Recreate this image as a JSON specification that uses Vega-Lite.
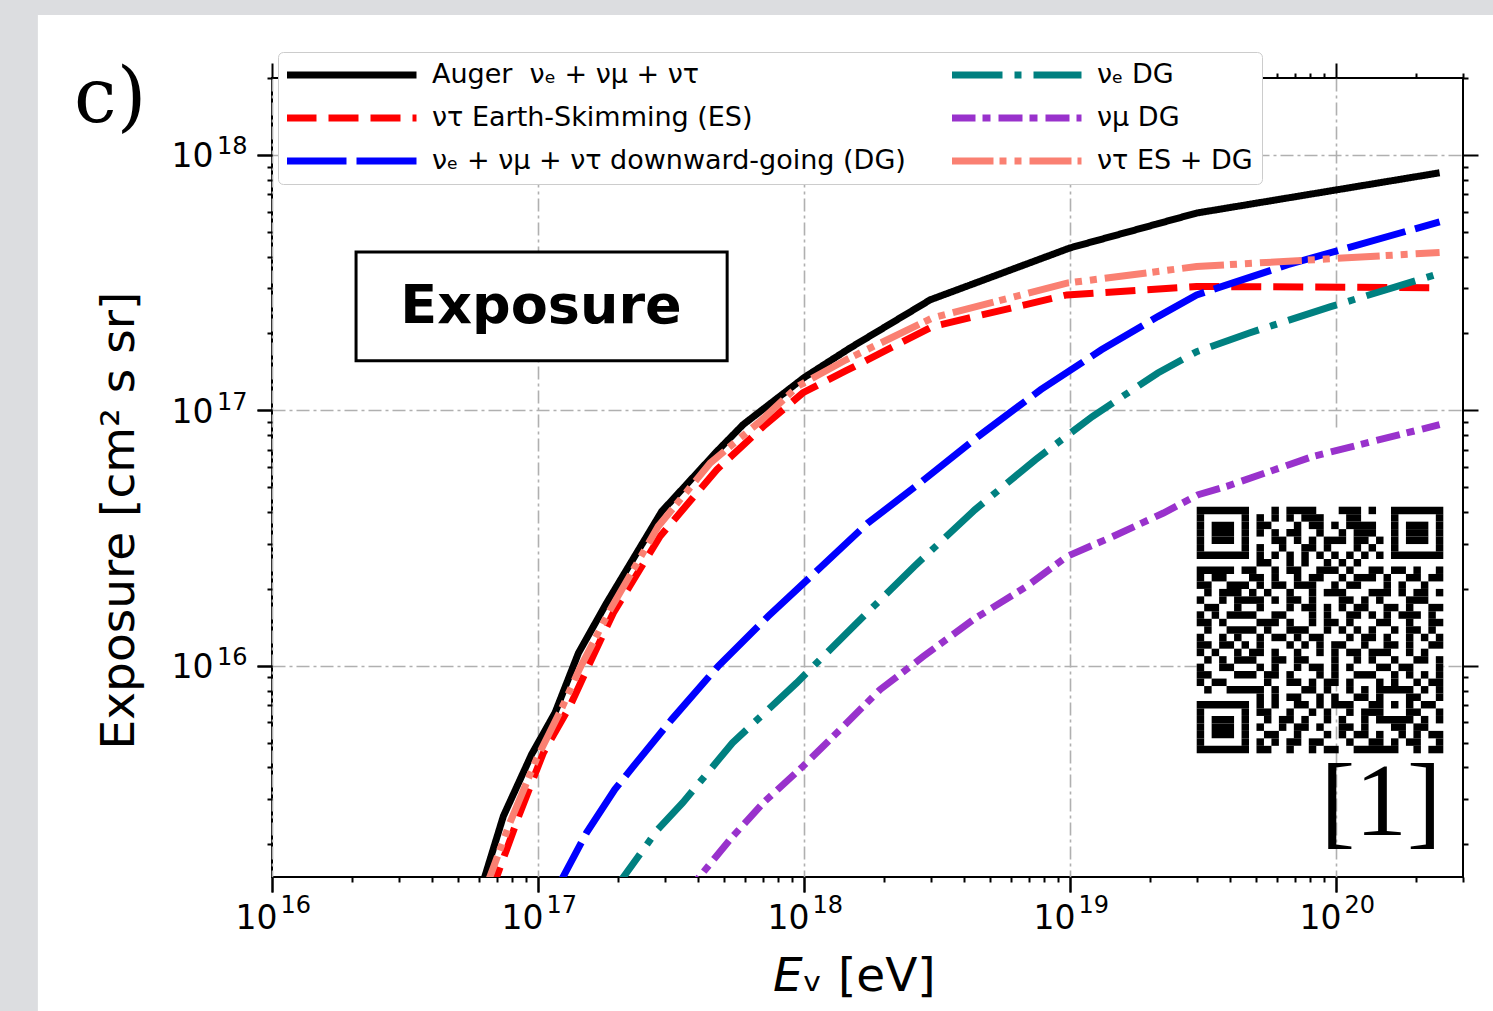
{
  "$schema": "https://vega.github.io/schema/vega-lite/v6.json",
  "width": 1191,
  "height": 799,
  "autosize": {"type": "none"},
  "padding": {"left": 272, "top": 78, "right": 30, "bottom": 134},
  "background": "white",
  "config": {
    "font": "DejaVu Sans",
    "view": {"stroke": "black", "strokeWidth": 2},
    "axis": {
      "domain": false,
      "tickColor": "black",
      "tickWidth": 2,
      "labelColor": "black",
      "titleColor": "black",
      "labelFont": "DejaVu Sans",
      "titleFont": "DejaVu Sans",
      "titleFontWeight": "normal",
      "gridColor": "#b0b0b0",
      "gridWidth": 1.6,
      "gridDash": [13, 4, 3, 4],
      "labelFlush": false,
      "labelOverlap": false,
      "labelBound": false
    }
  },
  "datasets": {
    "exposure": [
      {"s": "Auger\u00a0 νₑ + νμ + ντ", "E": 6.0e16, "X": 1.26e15},
      {"s": "Auger\u00a0 νₑ + νμ + ντ", "E": 7.41e16, "X": 2.58e15},
      {"s": "Auger\u00a0 νₑ + νμ + ντ", "E": 9.46e16, "X": 4.5e15},
      {"s": "Auger\u00a0 νₑ + νμ + ντ", "E": 1.159e17, "X": 6.55e15},
      {"s": "Auger\u00a0 νₑ + νμ + ντ", "E": 1.419e17, "X": 1.122e16},
      {"s": "Auger\u00a0 νₑ + νμ + ντ", "E": 1.811e17, "X": 1.762e16},
      {"s": "Auger\u00a0 νₑ + νμ + ντ", "E": 2.917e17, "X": 4.02e16},
      {"s": "Auger\u00a0 νₑ + νμ + ντ", "E": 4.7e17, "X": 6.9e16},
      {"s": "Auger\u00a0 νₑ + νμ + ντ", "E": 5.9e17, "X": 8.79e16},
      {"s": "Auger\u00a0 νₑ + νμ + ντ", "E": 1.0e18, "X": 1.343e17},
      {"s": "Auger\u00a0 νₑ + νμ + ντ", "E": 1.489e18, "X": 1.754e17},
      {"s": "Auger\u00a0 νₑ + νμ + ντ", "E": 2.985e18, "X": 2.71e17},
      {"s": "Auger\u00a0 νₑ + νμ + ντ", "E": 1.0e19, "X": 4.325e17},
      {"s": "Auger\u00a0 νₑ + νμ + ντ", "E": 2.99e19, "X": 5.92e17},
      {"s": "Auger\u00a0 νₑ + νμ + ντ", "E": 2.45e20, "X": 8.51e17},

      {"s": "ντ Earth-Skimming (ES)", "E": 6.59e16, "X": 1.26e15},
      {"s": "ντ Earth-Skimming (ES)", "E": 8.55e16, "X": 2.655e15},
      {"s": "ντ Earth-Skimming (ES)", "E": 1.047e17, "X": 4.56e15},
      {"s": "ντ Earth-Skimming (ES)", "E": 1.318e17, "X": 6.95e15},
      {"s": "ντ Earth-Skimming (ES)", "E": 1.524e17, "X": 9.66e15},
      {"s": "ντ Earth-Skimming (ES)", "E": 1.919e17, "X": 1.611e16},
      {"s": "ντ Earth-Skimming (ES)", "E": 2.877e17, "X": 3.214e16},
      {"s": "ντ Earth-Skimming (ES)", "E": 4.7e17, "X": 5.86e16},
      {"s": "ντ Earth-Skimming (ES)", "E": 7.03e17, "X": 8.65e16},
      {"s": "ντ Earth-Skimming (ES)", "E": 9.91e17, "X": 1.172e17},
      {"s": "ντ Earth-Skimming (ES)", "E": 1.439e18, "X": 1.429e17},
      {"s": "ντ Earth-Skimming (ES)", "E": 3.04e18, "X": 2.128e17},
      {"s": "ντ Earth-Skimming (ES)", "E": 9.73e18, "X": 2.831e17},
      {"s": "ντ Earth-Skimming (ES)", "E": 2.99e19, "X": 3.055e17},
      {"s": "ντ Earth-Skimming (ES)", "E": 2.45e20, "X": 3.02e17},

      {"s": "νₑ + νμ + ντ downward-going (DG)", "E": 1.14e17, "X": 1.26e15},
      {"s": "νₑ + νμ + ντ downward-going (DG)", "E": 1.521e17, "X": 2.218e15},
      {"s": "νₑ + νμ + ντ downward-going (DG)", "E": 1.945e17, "X": 3.281e15},
      {"s": "νₑ + νμ + ντ downward-going (DG)", "E": 2.339e17, "X": 4.169e15},
      {"s": "νₑ + νμ + ντ downward-going (DG)", "E": 3.184e17, "X": 6.17e15},
      {"s": "νₑ + νμ + ντ downward-going (DG)", "E": 4.75e17, "X": 9.95e15},
      {"s": "νₑ + νμ + ντ downward-going (DG)", "E": 7.33e17, "X": 1.563e16},
      {"s": "νₑ + νμ + ντ downward-going (DG)", "E": 1.062e18, "X": 2.239e16},
      {"s": "νₑ + νμ + ντ downward-going (DG)", "E": 1.738e18, "X": 3.622e16},
      {"s": "νₑ + νμ + ντ downward-going (DG)", "E": 2.679e18, "X": 5.12e16},
      {"s": "νₑ + νμ + ντ downward-going (DG)", "E": 4.52e18, "X": 7.91e16},
      {"s": "νₑ + νμ + ντ downward-going (DG)", "E": 7.76e18, "X": 1.205e17},
      {"s": "νₑ + νμ + ντ downward-going (DG)", "E": 1.312e19, "X": 1.726e17},
      {"s": "νₑ + νμ + ντ downward-going (DG)", "E": 2.138e19, "X": 2.328e17},
      {"s": "νₑ + νμ + ντ downward-going (DG)", "E": 2.992e19, "X": 2.831e17},
      {"s": "νₑ + νμ + ντ downward-going (DG)", "E": 6.58e19, "X": 3.715e17},
      {"s": "νₑ + νμ + ντ downward-going (DG)", "E": 2.45e20, "X": 5.47e17},

      {"s": "νₑ DG", "E": 1.866e17, "X": 1.26e15},
      {"s": "νₑ DG", "E": 2.818e17, "X": 2.286e15},
      {"s": "νₑ DG", "E": 3.5e17, "X": 2.911e15},
      {"s": "νₑ DG", "E": 5.38e17, "X": 4.99e15},
      {"s": "νₑ DG", "E": 9.38e17, "X": 8.57e15},
      {"s": "νₑ DG", "E": 1.535e18, "X": 1.429e16},
      {"s": "νₑ DG", "E": 2.594e18, "X": 2.449e16},
      {"s": "νₑ DG", "E": 4.39e18, "X": 4.083e16},
      {"s": "νₑ DG", "E": 7.41e18, "X": 6.41e16},
      {"s": "νₑ DG", "E": 1.213e19, "X": 9.46e16},
      {"s": "νₑ DG", "E": 2.138e19, "X": 1.4e17},
      {"s": "νₑ DG", "E": 2.992e19, "X": 1.698e17},
      {"s": "νₑ DG", "E": 4.69e19, "X": 2.004e17},
      {"s": "νₑ DG", "E": 9.55e19, "X": 2.547e17},
      {"s": "νₑ DG", "E": 2.45e20, "X": 3.436e17},

      {"s": "νμ DG", "E": 3.54e17, "X": 1.26e15},
      {"s": "νμ DG", "E": 5.27e17, "X": 2.089e15},
      {"s": "νμ DG", "E": 7.03e17, "X": 2.911e15},
      {"s": "νμ DG", "E": 9.93e17, "X": 4.05e15},
      {"s": "νμ DG", "E": 1.365e18, "X": 5.62e15},
      {"s": "νμ DG", "E": 1.932e18, "X": 8.07e15},
      {"s": "νμ DG", "E": 2.812e18, "X": 1.089e16},
      {"s": "νμ DG", "E": 4.33e18, "X": 1.517e16},
      {"s": "νμ DG", "E": 6.87e18, "X": 2.046e16},
      {"s": "νμ DG", "E": 9.73e18, "X": 2.679e16},
      {"s": "νμ DG", "E": 1.455e19, "X": 3.214e16},
      {"s": "νμ DG", "E": 2.244e19, "X": 3.963e16},
      {"s": "νμ DG", "E": 3.034e19, "X": 4.677e16},
      {"s": "νμ DG", "E": 3.88e19, "X": 5.04e16},
      {"s": "νμ DG", "E": 8.22e19, "X": 6.61e16},
      {"s": "νμ DG", "E": 2.45e20, "X": 8.79e16},

      {"s": "ντ ES + DG", "E": 6.21e16, "X": 1.26e15},
      {"s": "ντ ES + DG", "E": 7.85e16, "X": 2.438e15},
      {"s": "ντ ES + DG", "E": 9.89e16, "X": 4.34e15},
      {"s": "ντ ES + DG", "E": 1.227e17, "X": 6.81e15},
      {"s": "ντ ES + DG", "E": 1.439e17, "X": 9.82e15},
      {"s": "ντ ES + DG", "E": 1.866e17, "X": 1.656e16},
      {"s": "ντ ES + DG", "E": 2.831e17, "X": 3.516e16},
      {"s": "ντ ES + DG", "E": 4.44e17, "X": 6.22e16},
      {"s": "ντ ES + DG", "E": 6.84e17, "X": 9.06e16},
      {"s": "ντ ES + DG", "E": 9.48e17, "X": 1.242e17},
      {"s": "ντ ES + DG", "E": 1.439e18, "X": 1.578e17},
      {"s": "ντ ES + DG", "E": 3.04e18, "X": 2.301e17},
      {"s": "ντ ES + DG", "E": 9.73e18, "X": 3.148e17},
      {"s": "ντ ES + DG", "E": 2.99e19, "X": 3.656e17},
      {"s": "ντ ES + DG", "E": 2.45e20, "X": 4.15e17}
    ],
    "qr": [
      {"r": 0, "c0": 0, "c1": 7}, {"r": 0, "c0": 10, "c1": 11}, {"r": 0, "c0": 12, "c1": 16}, {"r": 0, "c0": 19, "c1": 22}, {"r": 0, "c0": 23, "c1": 24}, {"r": 0, "c0": 26, "c1": 33},
      {"r": 1, "c0": 0, "c1": 1}, {"r": 1, "c0": 6, "c1": 7}, {"r": 1, "c0": 8, "c1": 9}, {"r": 1, "c0": 10, "c1": 11}, {"r": 1, "c0": 12, "c1": 13}, {"r": 1, "c0": 14, "c1": 17}, {"r": 1, "c0": 20, "c1": 22}, {"r": 1, "c0": 26, "c1": 27}, {"r": 1, "c0": 32, "c1": 33},
      {"r": 2, "c0": 0, "c1": 1}, {"r": 2, "c0": 2, "c1": 5}, {"r": 2, "c0": 6, "c1": 7}, {"r": 2, "c0": 8, "c1": 10}, {"r": 2, "c0": 13, "c1": 14}, {"r": 2, "c0": 15, "c1": 17}, {"r": 2, "c0": 18, "c1": 19}, {"r": 2, "c0": 20, "c1": 24}, {"r": 2, "c0": 26, "c1": 27}, {"r": 2, "c0": 28, "c1": 31}, {"r": 2, "c0": 32, "c1": 33},
      {"r": 3, "c0": 0, "c1": 1}, {"r": 3, "c0": 2, "c1": 5}, {"r": 3, "c0": 6, "c1": 7}, {"r": 3, "c0": 8, "c1": 9}, {"r": 3, "c0": 10, "c1": 11}, {"r": 3, "c0": 12, "c1": 14}, {"r": 3, "c0": 16, "c1": 17}, {"r": 3, "c0": 19, "c1": 20}, {"r": 3, "c0": 21, "c1": 24}, {"r": 3, "c0": 26, "c1": 27}, {"r": 3, "c0": 28, "c1": 31}, {"r": 3, "c0": 32, "c1": 33},
      {"r": 4, "c0": 0, "c1": 1}, {"r": 4, "c0": 2, "c1": 5}, {"r": 4, "c0": 6, "c1": 7}, {"r": 4, "c0": 10, "c1": 12}, {"r": 4, "c0": 13, "c1": 14}, {"r": 4, "c0": 15, "c1": 16}, {"r": 4, "c0": 17, "c1": 20}, {"r": 4, "c0": 21, "c1": 23}, {"r": 4, "c0": 24, "c1": 25}, {"r": 4, "c0": 26, "c1": 27}, {"r": 4, "c0": 28, "c1": 31}, {"r": 4, "c0": 32, "c1": 33},
      {"r": 5, "c0": 0, "c1": 1}, {"r": 5, "c0": 6, "c1": 7}, {"r": 5, "c0": 8, "c1": 9}, {"r": 5, "c0": 11, "c1": 12}, {"r": 5, "c0": 14, "c1": 16}, {"r": 5, "c0": 17, "c1": 18}, {"r": 5, "c0": 21, "c1": 22}, {"r": 5, "c0": 23, "c1": 24}, {"r": 5, "c0": 26, "c1": 27}, {"r": 5, "c0": 32, "c1": 33},
      {"r": 6, "c0": 0, "c1": 7}, {"r": 6, "c0": 8, "c1": 9}, {"r": 6, "c0": 10, "c1": 11}, {"r": 6, "c0": 12, "c1": 13}, {"r": 6, "c0": 14, "c1": 15}, {"r": 6, "c0": 16, "c1": 17}, {"r": 6, "c0": 18, "c1": 19}, {"r": 6, "c0": 20, "c1": 21}, {"r": 6, "c0": 22, "c1": 23}, {"r": 6, "c0": 24, "c1": 25}, {"r": 6, "c0": 26, "c1": 33},
      {"r": 7, "c0": 8, "c1": 10}, {"r": 7, "c0": 12, "c1": 13}, {"r": 7, "c0": 14, "c1": 15}, {"r": 7, "c0": 17, "c1": 18}, {"r": 7, "c0": 19, "c1": 20}, {"r": 7, "c0": 21, "c1": 22},
      {"r": 8, "c0": 0, "c1": 5}, {"r": 8, "c0": 6, "c1": 8}, {"r": 8, "c0": 10, "c1": 11}, {"r": 8, "c0": 12, "c1": 14}, {"r": 8, "c0": 16, "c1": 19}, {"r": 8, "c0": 20, "c1": 21}, {"r": 8, "c0": 23, "c1": 25}, {"r": 8, "c0": 26, "c1": 28}, {"r": 8, "c0": 29, "c1": 30}, {"r": 8, "c0": 32, "c1": 33},
      {"r": 9, "c0": 0, "c1": 1}, {"r": 9, "c0": 2, "c1": 4}, {"r": 9, "c0": 7, "c1": 9}, {"r": 9, "c0": 10, "c1": 11}, {"r": 9, "c0": 13, "c1": 14}, {"r": 9, "c0": 15, "c1": 17}, {"r": 9, "c0": 19, "c1": 20}, {"r": 9, "c0": 21, "c1": 24}, {"r": 9, "c0": 25, "c1": 26}, {"r": 9, "c0": 28, "c1": 30}, {"r": 9, "c0": 31, "c1": 33},
      {"r": 10, "c0": 0, "c1": 2}, {"r": 10, "c0": 4, "c1": 7}, {"r": 10, "c0": 8, "c1": 9}, {"r": 10, "c0": 10, "c1": 12}, {"r": 10, "c0": 13, "c1": 16}, {"r": 10, "c0": 18, "c1": 19}, {"r": 10, "c0": 20, "c1": 22}, {"r": 10, "c0": 25, "c1": 26}, {"r": 10, "c0": 27, "c1": 28}, {"r": 10, "c0": 30, "c1": 31},
      {"r": 11, "c0": 1, "c1": 2}, {"r": 11, "c0": 3, "c1": 6}, {"r": 11, "c0": 7, "c1": 8}, {"r": 11, "c0": 9, "c1": 10}, {"r": 11, "c0": 12, "c1": 13}, {"r": 11, "c0": 15, "c1": 16}, {"r": 11, "c0": 17, "c1": 20}, {"r": 11, "c0": 23, "c1": 26}, {"r": 11, "c0": 27, "c1": 28}, {"r": 11, "c0": 29, "c1": 31}, {"r": 11, "c0": 32, "c1": 33},
      {"r": 12, "c0": 0, "c1": 1}, {"r": 12, "c0": 3, "c1": 4}, {"r": 12, "c0": 5, "c1": 9}, {"r": 12, "c0": 10, "c1": 11}, {"r": 12, "c0": 12, "c1": 14}, {"r": 12, "c0": 15, "c1": 16}, {"r": 12, "c0": 19, "c1": 21}, {"r": 12, "c0": 22, "c1": 23}, {"r": 12, "c0": 24, "c1": 25}, {"r": 12, "c0": 28, "c1": 31},
      {"r": 13, "c0": 1, "c1": 3}, {"r": 13, "c0": 5, "c1": 6}, {"r": 13, "c0": 8, "c1": 9}, {"r": 13, "c0": 12, "c1": 13}, {"r": 13, "c0": 14, "c1": 16}, {"r": 13, "c0": 17, "c1": 18}, {"r": 13, "c0": 19, "c1": 20}, {"r": 13, "c0": 21, "c1": 23}, {"r": 13, "c0": 25, "c1": 27}, {"r": 13, "c0": 28, "c1": 29}, {"r": 13, "c0": 31, "c1": 33},
      {"r": 14, "c0": 0, "c1": 1}, {"r": 14, "c0": 2, "c1": 3}, {"r": 14, "c0": 4, "c1": 8}, {"r": 14, "c0": 10, "c1": 12}, {"r": 14, "c0": 15, "c1": 16}, {"r": 14, "c0": 17, "c1": 18}, {"r": 14, "c0": 20, "c1": 22}, {"r": 14, "c0": 23, "c1": 24}, {"r": 14, "c0": 25, "c1": 26}, {"r": 14, "c0": 27, "c1": 30}, {"r": 14, "c0": 31, "c1": 32},
      {"r": 15, "c0": 0, "c1": 2}, {"r": 15, "c0": 3, "c1": 4}, {"r": 15, "c0": 8, "c1": 11}, {"r": 15, "c0": 12, "c1": 13}, {"r": 15, "c0": 15, "c1": 16}, {"r": 15, "c0": 17, "c1": 19}, {"r": 15, "c0": 20, "c1": 21}, {"r": 15, "c0": 24, "c1": 26}, {"r": 15, "c0": 28, "c1": 29}, {"r": 15, "c0": 31, "c1": 33},
      {"r": 16, "c0": 1, "c1": 2}, {"r": 16, "c0": 4, "c1": 8}, {"r": 16, "c0": 9, "c1": 10}, {"r": 16, "c0": 12, "c1": 15}, {"r": 16, "c0": 17, "c1": 18}, {"r": 16, "c0": 19, "c1": 20}, {"r": 16, "c0": 21, "c1": 22}, {"r": 16, "c0": 23, "c1": 24}, {"r": 16, "c0": 26, "c1": 27}, {"r": 16, "c0": 28, "c1": 30}, {"r": 16, "c0": 31, "c1": 32},
      {"r": 17, "c0": 0, "c1": 1}, {"r": 17, "c0": 3, "c1": 4}, {"r": 17, "c0": 5, "c1": 6}, {"r": 17, "c0": 8, "c1": 9}, {"r": 17, "c0": 10, "c1": 12}, {"r": 17, "c0": 13, "c1": 14}, {"r": 17, "c0": 15, "c1": 17}, {"r": 17, "c0": 20, "c1": 21}, {"r": 17, "c0": 22, "c1": 24}, {"r": 17, "c0": 25, "c1": 26}, {"r": 17, "c0": 28, "c1": 29}, {"r": 17, "c0": 30, "c1": 31}, {"r": 17, "c0": 32, "c1": 33},
      {"r": 18, "c0": 0, "c1": 2}, {"r": 18, "c0": 3, "c1": 5}, {"r": 18, "c0": 6, "c1": 7}, {"r": 18, "c0": 8, "c1": 9}, {"r": 18, "c0": 12, "c1": 13}, {"r": 18, "c0": 14, "c1": 15}, {"r": 18, "c0": 16, "c1": 17}, {"r": 18, "c0": 18, "c1": 20}, {"r": 18, "c0": 22, "c1": 23}, {"r": 18, "c0": 25, "c1": 27}, {"r": 18, "c0": 28, "c1": 29}, {"r": 18, "c0": 31, "c1": 33},
      {"r": 19, "c0": 0, "c1": 1}, {"r": 19, "c0": 2, "c1": 3}, {"r": 19, "c0": 5, "c1": 6}, {"r": 19, "c0": 7, "c1": 9}, {"r": 19, "c0": 10, "c1": 11}, {"r": 19, "c0": 13, "c1": 14}, {"r": 19, "c0": 16, "c1": 17}, {"r": 19, "c0": 18, "c1": 19}, {"r": 19, "c0": 20, "c1": 22}, {"r": 19, "c0": 23, "c1": 26}, {"r": 19, "c0": 28, "c1": 29}, {"r": 19, "c0": 30, "c1": 31},
      {"r": 20, "c0": 1, "c1": 2}, {"r": 20, "c0": 3, "c1": 4}, {"r": 20, "c0": 5, "c1": 8}, {"r": 20, "c0": 10, "c1": 12}, {"r": 20, "c0": 13, "c1": 15}, {"r": 20, "c0": 18, "c1": 19}, {"r": 20, "c0": 21, "c1": 22}, {"r": 20, "c0": 23, "c1": 24}, {"r": 20, "c0": 26, "c1": 27}, {"r": 20, "c0": 29, "c1": 31}, {"r": 20, "c0": 32, "c1": 33},
      {"r": 21, "c0": 0, "c1": 1}, {"r": 21, "c0": 3, "c1": 5}, {"r": 21, "c0": 8, "c1": 9}, {"r": 21, "c0": 10, "c1": 11}, {"r": 21, "c0": 13, "c1": 14}, {"r": 21, "c0": 15, "c1": 17}, {"r": 21, "c0": 18, "c1": 19}, {"r": 21, "c0": 20, "c1": 21}, {"r": 21, "c0": 24, "c1": 26}, {"r": 21, "c0": 27, "c1": 29}, {"r": 21, "c0": 32, "c1": 33},
      {"r": 22, "c0": 0, "c1": 2}, {"r": 22, "c0": 5, "c1": 8}, {"r": 22, "c0": 9, "c1": 11}, {"r": 22, "c0": 12, "c1": 13}, {"r": 22, "c0": 16, "c1": 17}, {"r": 22, "c0": 18, "c1": 19}, {"r": 22, "c0": 21, "c1": 24}, {"r": 22, "c0": 26, "c1": 27}, {"r": 22, "c0": 28, "c1": 29}, {"r": 22, "c0": 30, "c1": 31}, {"r": 22, "c0": 32, "c1": 33},
      {"r": 23, "c0": 0, "c1": 1}, {"r": 23, "c0": 2, "c1": 4}, {"r": 23, "c0": 9, "c1": 10}, {"r": 23, "c0": 12, "c1": 14}, {"r": 23, "c0": 15, "c1": 16}, {"r": 23, "c0": 17, "c1": 19}, {"r": 23, "c0": 20, "c1": 21}, {"r": 23, "c0": 24, "c1": 25}, {"r": 23, "c0": 26, "c1": 27}, {"r": 23, "c0": 29, "c1": 30}, {"r": 23, "c0": 31, "c1": 33},
      {"r": 24, "c0": 1, "c1": 2}, {"r": 24, "c0": 4, "c1": 9}, {"r": 24, "c0": 10, "c1": 11}, {"r": 24, "c0": 14, "c1": 16}, {"r": 24, "c0": 17, "c1": 18}, {"r": 24, "c0": 20, "c1": 21}, {"r": 24, "c0": 22, "c1": 23}, {"r": 24, "c0": 24, "c1": 29}, {"r": 24, "c0": 30, "c1": 31}, {"r": 24, "c0": 32, "c1": 33},
      {"r": 25, "c0": 8, "c1": 9}, {"r": 25, "c0": 10, "c1": 11}, {"r": 25, "c0": 12, "c1": 14}, {"r": 25, "c0": 16, "c1": 17}, {"r": 25, "c0": 18, "c1": 19}, {"r": 25, "c0": 21, "c1": 23}, {"r": 25, "c0": 24, "c1": 25}, {"r": 25, "c0": 28, "c1": 30}, {"r": 25, "c0": 32, "c1": 33},
      {"r": 26, "c0": 0, "c1": 7}, {"r": 26, "c0": 8, "c1": 9}, {"r": 26, "c0": 10, "c1": 11}, {"r": 26, "c0": 13, "c1": 15}, {"r": 26, "c0": 16, "c1": 17}, {"r": 26, "c0": 18, "c1": 21}, {"r": 26, "c0": 23, "c1": 25}, {"r": 26, "c0": 26, "c1": 27}, {"r": 26, "c0": 28, "c1": 29}, {"r": 26, "c0": 30, "c1": 32},
      {"r": 27, "c0": 0, "c1": 1}, {"r": 27, "c0": 6, "c1": 7}, {"r": 27, "c0": 8, "c1": 10}, {"r": 27, "c0": 12, "c1": 13}, {"r": 27, "c0": 15, "c1": 16}, {"r": 27, "c0": 17, "c1": 18}, {"r": 27, "c0": 20, "c1": 21}, {"r": 27, "c0": 22, "c1": 25}, {"r": 27, "c0": 28, "c1": 30}, {"r": 27, "c0": 32, "c1": 33},
      {"r": 28, "c0": 0, "c1": 1}, {"r": 28, "c0": 2, "c1": 5}, {"r": 28, "c0": 6, "c1": 7}, {"r": 28, "c0": 9, "c1": 10}, {"r": 28, "c0": 11, "c1": 13}, {"r": 28, "c0": 14, "c1": 15}, {"r": 28, "c0": 17, "c1": 18}, {"r": 28, "c0": 19, "c1": 20}, {"r": 28, "c0": 22, "c1": 23}, {"r": 28, "c0": 24, "c1": 29}, {"r": 28, "c0": 30, "c1": 31}, {"r": 28, "c0": 32, "c1": 33},
      {"r": 29, "c0": 0, "c1": 1}, {"r": 29, "c0": 2, "c1": 5}, {"r": 29, "c0": 6, "c1": 7}, {"r": 29, "c0": 8, "c1": 9}, {"r": 29, "c0": 11, "c1": 12}, {"r": 29, "c0": 13, "c1": 15}, {"r": 29, "c0": 16, "c1": 17}, {"r": 29, "c0": 19, "c1": 21}, {"r": 29, "c0": 22, "c1": 23}, {"r": 29, "c0": 26, "c1": 28}, {"r": 29, "c0": 29, "c1": 31},
      {"r": 30, "c0": 0, "c1": 1}, {"r": 30, "c0": 2, "c1": 5}, {"r": 30, "c0": 6, "c1": 7}, {"r": 30, "c0": 9, "c1": 11}, {"r": 30, "c0": 13, "c1": 14}, {"r": 30, "c0": 17, "c1": 18}, {"r": 30, "c0": 19, "c1": 20}, {"r": 30, "c0": 21, "c1": 23}, {"r": 30, "c0": 24, "c1": 25}, {"r": 30, "c0": 27, "c1": 28}, {"r": 30, "c0": 29, "c1": 30}, {"r": 30, "c0": 31, "c1": 33},
      {"r": 31, "c0": 0, "c1": 1}, {"r": 31, "c0": 6, "c1": 7}, {"r": 31, "c0": 8, "c1": 9}, {"r": 31, "c0": 10, "c1": 11}, {"r": 31, "c0": 12, "c1": 14}, {"r": 31, "c0": 15, "c1": 17}, {"r": 31, "c0": 20, "c1": 21}, {"r": 31, "c0": 23, "c1": 25}, {"r": 31, "c0": 26, "c1": 27}, {"r": 31, "c0": 28, "c1": 30}, {"r": 31, "c0": 32, "c1": 33},
      {"r": 32, "c0": 0, "c1": 7}, {"r": 32, "c0": 8, "c1": 10}, {"r": 32, "c0": 12, "c1": 13}, {"r": 32, "c0": 15, "c1": 16}, {"r": 32, "c0": 17, "c1": 19}, {"r": 32, "c0": 21, "c1": 27}, {"r": 32, "c0": 29, "c1": 30}, {"r": 32, "c0": 31, "c1": 33}
    ]
  },
  "resolve": {"scale": {"x": "independent", "y": "independent"}},
  "layer": [
    {
      "resolve": {"axis": {"x": "independent", "y": "independent"}},
      "layer": [
        {
          "data": {"values": [{}]},
          "mark": {"type": "rect", "color": "#dcdde0"},
          "encoding": {
            "x": {"datum": 1e14, "type": "quantitative", "scale": {"type": "log", "domain": [1e16, 3e20], "nice": false}, "axis": null},
            "x2": {"datum": 1.318e15},
            "y": {"datum": 1e13, "type": "quantitative", "scale": {"type": "log", "domain": [1.49e15, 2e18], "nice": false}, "axis": null},
            "y2": {"datum": 1e21}
          }
        },
        {
          "data": {"values": [{}]},
          "mark": {"type": "rect", "color": "#dcdde0"},
          "encoding": {
            "x": {"datum": 1e14, "type": "quantitative", "scale": {"type": "log", "domain": [1e16, 3e20], "nice": false}, "axis": null},
            "x2": {"datum": 1e22},
            "y": {"datum": 3.53e18, "type": "quantitative", "scale": {"type": "log", "domain": [1.49e15, 2e18], "nice": false}, "axis": null},
            "y2": {"datum": 1e21}
          }
        },
        {
          "data": {"values": [{}]},
          "mark": {"type": "rect", "fill": "white", "stroke": "black", "strokeWidth": 3},
          "encoding": {
            "x": {
              "datum": 2.07e16, "type": "quantitative",
              "scale": {"type": "log", "domain": [1e16, 3e20], "nice": false},
              "axis": {
                "orient": "top", "title": null, "labels": false, "grid": false,
                "values": [1e16, 2e16, 3e16, 4e16, 5e16, 6e16, 7e16, 8e16, 9e16, 1e17, 2e17, 3e17, 4e17, 5e17, 6e17, 7e17, 8e17, 9e17, 1e18, 2e18, 3e18, 4e18, 5e18, 6e18, 7e18, 8e18, 9e18, 1e19, 2e19, 3e19, 4e19, 5e19, 6e19, 7e19, 8e19, 9e19, 1e20, 2e20, 3e20],
                "tickSize": {"condition": {"test": "abs(log(datum.value)/LN10 - round(log(datum.value)/LN10)) < 0.001", "value": 15}, "value": 5}
              }
            },
            "x2": {"datum": 5.14e17},
            "y": {
              "datum": 4.17e17, "type": "quantitative",
              "scale": {"type": "log", "domain": [1.49e15, 2e18], "nice": false},
              "axis": {
                "orient": "right", "title": null, "labels": false, "grid": false,
                "values": [2e15, 3e15, 4e15, 5e15, 6e15, 7e15, 8e15, 9e15, 1e16, 2e16, 3e16, 4e16, 5e16, 6e16, 7e16, 8e16, 9e16, 1e17, 2e17, 3e17, 4e17, 5e17, 6e17, 7e17, 8e17, 9e17, 1e18, 2e18],
                "tickSize": {"condition": {"test": "abs(log(datum.value)/LN10 - round(log(datum.value)/LN10)) < 0.001", "value": 15}, "value": 5}
              }
            },
            "y2": {"datum": 1.563e17}
          }
        },
        {
          "data": {"values": [{}]},
          "mark": {"type": "text", "text": "Exposure", "fontSize": 54, "fontWeight": "bold", "align": "center", "baseline": "middle", "color": "black"},
          "encoding": {
            "x": {"datum": 1.026e17, "type": "quantitative", "scale": {"type": "log", "domain": [1e16, 3e20], "nice": false}, "axis": null},
            "y": {"datum": 2.54e17, "type": "quantitative", "scale": {"type": "log", "domain": [1.49e15, 2e18], "nice": false}, "axis": null}
          }
        },
        {
          "data": {"values": [{}]},
          "mark": {"type": "text", "text": "c)", "font": "DejaVu Serif", "fontSize": 76, "align": "left", "baseline": "alphabetic", "color": "black"},
          "encoding": {
            "x": {"datum": 1.803e15, "type": "quantitative", "scale": {"type": "log", "domain": [1e16, 3e20], "nice": false}, "axis": null},
            "y": {"datum": 1.346e18, "type": "quantitative", "scale": {"type": "log", "domain": [1.49e15, 2e18], "nice": false}, "axis": null}
          }
        },
        {
          "data": {"values": [{}]},
          "mark": {"type": "rect", "color": "white"},
          "encoding": {
            "x": {"datum": 2.992e19, "type": "quantitative", "scale": {"type": "log", "domain": [1e16, 3e20], "nice": false}, "axis": null},
            "x2": {"datum": 2.53e20},
            "y": {"datum": 8.49e16, "type": "quantitative", "scale": {"type": "log", "domain": [1.49e15, 2e18], "nice": false}, "axis": null},
            "y2": {"datum": 9.2e15}
          }
        },
        {
          "data": {"values": [{}]},
          "mark": {"type": "text", "text": "[1]", "font": "Liberation Serif", "fontSize": 104, "align": "center", "baseline": "alphabetic", "color": "black"},
          "encoding": {
            "x": {
              "datum": 1.476e20, "type": "quantitative",
              "scale": {"type": "log", "domain": [1e16, 3e20], "nice": false},
              "axis": {
                "orient": "bottom", "title": null, "grid": false,
                "values": [1e16, 1e17, 1e18, 1e19, 1e20],
                "tickSize": 15,
                "labelExpr": "format(round(log(datum.value)/LN10), 'd')",
                "labelFontSize": 24,
                "labelAlign": "left",
                "labelBaseline": "alphabetic",
                "labelOffset": 8,
                "labelPadding": 20
              }
            },
            "y": {
              "datum": 2.168e15, "type": "quantitative",
              "scale": {"type": "log", "domain": [1.49e15, 2e18], "nice": false},
              "axis": {
                "orient": "left", "title": null, "grid": false,
                "values": [1e16, 1e17, 1e18],
                "tickSize": 15,
                "labelExpr": "format(round(log(datum.value)/LN10), 'd')",
                "labelFontSize": 24,
                "labelAlign": "right",
                "labelBaseline": "alphabetic",
                "labelOffset": -1,
                "labelPadding": 10
              }
            }
          }
        },
        {
          "data": {"name": "exposure"},
          "mark": {"type": "line", "strokeWidth": 7, "strokeCap": "butt", "clip": true},
          "encoding": {
            "x": {
              "field": "E", "type": "quantitative",
              "scale": {"type": "log", "domain": [1e16, 3e20], "nice": false},
              "axis": {
                "orient": "bottom",
                "values": [1e16, 2e16, 3e16, 4e16, 5e16, 6e16, 7e16, 8e16, 9e16, 1e17, 2e17, 3e17, 4e17, 5e17, 6e17, 7e17, 8e17, 9e17, 1e18, 2e18, 3e18, 4e18, 5e18, 6e18, 7e18, 8e18, 9e18, 1e19, 2e19, 3e19, 4e19, 5e19, 6e19, 7e19, 8e19, 9e19, 1e20, 2e20, 3e20],
                "tickSize": {"condition": {"test": "abs(log(datum.value)/LN10 - round(log(datum.value)/LN10)) < 0.001", "value": 15}, "value": 5},
                "grid": true,
                "gridOpacity": {"condition": {"test": "abs(log(datum.value)/LN10 - round(log(datum.value)/LN10)) < 0.001", "value": 1}, "value": 0},
                "labelExpr": "abs(log(datum.value)/LN10 - round(log(datum.value)/LN10)) < 0.001 ? '10' : ''",
                "labelFontSize": 33,
                "labelAlign": "center",
                "labelBaseline": "alphabetic",
                "labelOffset": -16,
                "labelPadding": 36,
                "title": "\uD835\uDE0Cᵥ [eV]",
                "titleFontSize": 47,
                "titleX": 582,
                "titleY": 113,
                "titleAlign": "center",
                "titleBaseline": "alphabetic"
              }
            },
            "y": {
              "field": "X", "type": "quantitative",
              "scale": {"type": "log", "domain": [1.49e15, 2e18], "nice": false},
              "axis": {
                "orient": "left",
                "values": [2e15, 3e15, 4e15, 5e15, 6e15, 7e15, 8e15, 9e15, 1e16, 2e16, 3e16, 4e16, 5e16, 6e16, 7e16, 8e16, 9e16, 1e17, 2e17, 3e17, 4e17, 5e17, 6e17, 7e17, 8e17, 9e17, 1e18, 2e18],
                "tickSize": {"condition": {"test": "abs(log(datum.value)/LN10 - round(log(datum.value)/LN10)) < 0.001", "value": 15}, "value": 5},
                "grid": true,
                "gridOpacity": {"condition": {"test": "abs(log(datum.value)/LN10 - round(log(datum.value)/LN10)) < 0.001", "value": 1}, "value": 0},
                "labelExpr": "abs(log(datum.value)/LN10 - round(log(datum.value)/LN10)) < 0.001 ? '10' : ''",
                "labelFontSize": 33,
                "labelAlign": "right",
                "labelBaseline": "alphabetic",
                "labelOffset": 12,
                "labelPadding": 44,
                "title": "Exposure [cm² s sr]",
                "titleFontSize": 47,
                "titleAngle": -90,
                "titleX": -139,
                "titleY": 442,
                "titleAlign": "center",
                "titleBaseline": "alphabetic"
              }
            },
            "color": {
              "field": "s", "type": "nominal",
              "scale": {
                "domain": ["Auger\u00a0 νₑ + νμ + ντ", "ντ Earth-Skimming (ES)", "νₑ + νμ + ντ downward-going (DG)", "νₑ DG", "νμ DG", "ντ ES + DG"],
                "range": ["#000000", "#ff0000", "#0000ff", "#008080", "#9932cc", "#fa8072"]
              },
              "legend": {
                "orient": "none", "legendX": 6, "legendY": -26, "columns": 2, "title": null,
                "symbolType": "stroke", "symbolSize": 16900, "symbolStrokeWidth": 7, "symbolOffset": -4, "clipHeight": 28,
                "labelFontSize": 27, "labelFont": "DejaVu Sans", "labelColor": "black", "labelOffset": 12, "labelLimit": 0,
                "columnPadding": 46, "rowPadding": 15, "padding": 9,
                "fillColor": "white", "strokeColor": "#cccccc", "cornerRadius": 5
              }
            },
            "strokeDash": {
              "field": "s", "type": "nominal",
              "scale": {
                "domain": ["Auger\u00a0 νₑ + νμ + ντ", "ντ Earth-Skimming (ES)", "νₑ + νμ + ντ downward-going (DG)", "νₑ DG", "νμ DG", "ντ ES + DG"],
                "range": [[1, 0], [30, 12], [60, 10], [51, 12, 7, 12], [24, 7, 8, 8], [42, 6, 7, 8, 7, 8]]
              },
              "legend": {
                "orient": "none", "legendX": 6, "legendY": -26, "columns": 2, "title": null,
                "symbolType": "stroke", "symbolSize": 16900, "symbolStrokeWidth": 7, "symbolOffset": -4, "clipHeight": 28,
                "labelFontSize": 27, "labelFont": "DejaVu Sans", "labelColor": "black", "labelOffset": 12, "labelLimit": 0,
                "columnPadding": 46, "rowPadding": 15, "padding": 9,
                "fillColor": "white", "strokeColor": "#cccccc", "cornerRadius": 5
              }
            }
          }
        }
      ]
    },
    {
      "data": {"name": "qr"},
      "mark": {"type": "rect", "color": "black"},
      "encoding": {
        "x": {"field": "c0", "type": "quantitative", "scale": {"domain": [0, 33], "range": [924.7, 1171.3], "nice": false, "zero": false}, "axis": null},
        "x2": {"field": "c1"},
        "y": {"field": "r", "type": "ordinal", "scale": {"domain": [0, 1, 2, 3, 4, 5, 6, 7, 8, 9, 10, 11, 12, 13, 14, 15, 16, 17, 18, 19, 20, 21, 22, 23, 24, 25, 26, 27, 28, 29, 30, 31, 32], "range": [428.7, 675.3], "paddingInner": 0, "paddingOuter": 0}, "axis": null}
      }
    }
  ]
}
